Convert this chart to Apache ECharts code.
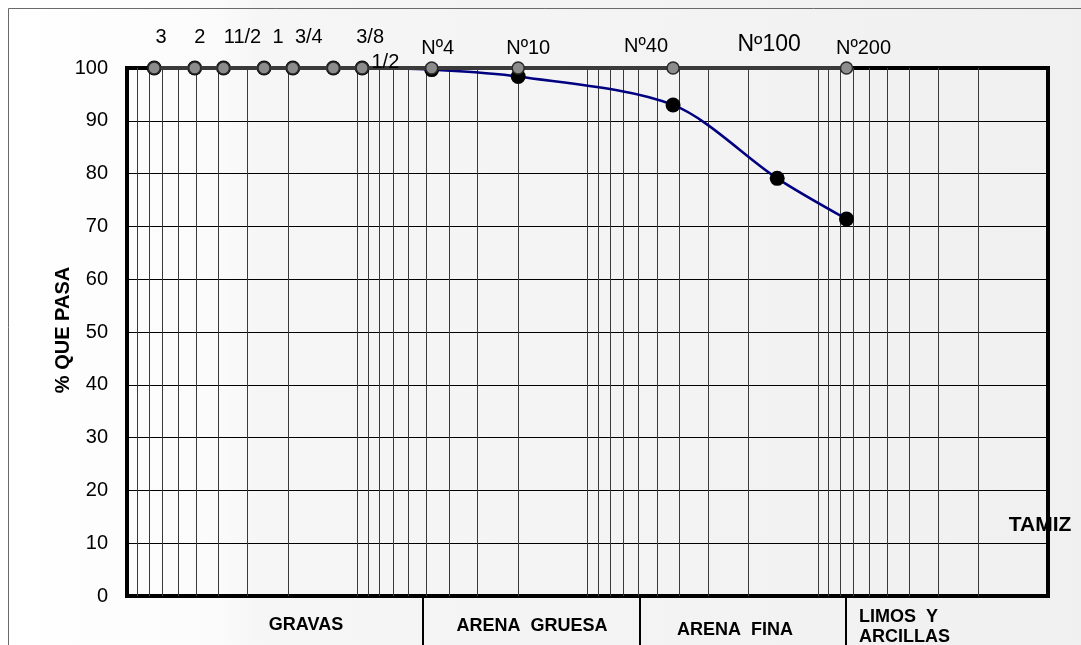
<!DOCTYPE html>
<html>
<head>
<meta charset="utf-8">
<title>Curva granulométrica</title>
<script src="https://cdn.jsdelivr.net/npm/echarts@6/dist/echarts.min.js"></script>
<style>
  html, body { margin: 0; padding: 0; background: #ffffff; }
  #chart { width: 1081px; height: 645px; }
</style>
</head>
<body>
<div id="chart"></div>
<script>
// Sieve series (ASTM) and their openings in millimetres
const sieves = ['3', '2', '11/2', '1', '3/4', '1/2', '3/8', 'Nº4', 'Nº10', 'Nº40', 'Nº100', 'Nº200'];
const openingsMm = [76.2, 50.8, 38.1, 25.4, 19.05, 12.7, 9.525, 4.75, 2.0, 0.425, 0.15, 0.075];
// Percentage passing each sieve
const percentPassing = [100, 100, 100, 100, 100, 100, 100, 99.7, 98.4, 93.0, 79.1, 71.4];
// Reference row of sieves drawn along the 100 % line
const sieveRow = [100, 100, 100, 100, 100, 100, 100, 100, 100, 100, 100, 100];
// Sieves that appear in the reference row without a marker
const rowWithoutMarker = ['Nº100'];
// Y axis range
const yMin = 0, yMax = 100, yStep = 10;
// Soil classes shown under the plot
const soilClasses = ['GRAVAS', 'ARENA  GRUESA', 'ARENA  FINA', 'LIMOS  Y', 'ARCILLAS'];

// Label placement for each sieve name, relative to its marker centre
const sieveLabelLayout = {
  '3': { offset: [7, -31] },
  '2': { offset: [5, -31] },
  '11/2': { offset: [19, -31] },
  '1': { offset: [14, -31] },
  '3/4': { offset: [16, -31] },
  '1/2': { offset: [52, -6] },
  '3/8': { offset: [8, -31] },
  'Nº4': { offset: [6, -20] },
  'Nº10': { offset: [10, -20] },
  'Nº40': { offset: [-27, -22] },
  'Nº100': { offset: [-8, -23], fontSize: 23 },
  'Nº200': { offset: [17, -20] }
};

// Log-cycle grid: 2..9 within each decade plus the decade lines, 0.01 mm – 100 mm
const logGridValues = [];
for (let e = -2; e <= 1; e++) {
  for (let m = 1; m <= 9; m++) {
    if (e === -2 && m === 1) continue;
    logGridValues.push(+(m * Math.pow(10, e)).toPrecision(6));
  }
}

const FONT = '"Liberation Sans", Arial, Helvetica, sans-serif';

const curveData = openingsMm.map((d, i) => [d, percentPassing[i]]);
const rowData = sieves.map((s, i) => {
  const lay = sieveLabelLayout[s];
  return {
    name: s,
    value: [openingsMm[i], sieveRow[i]],
    symbolSize: rowWithoutMarker.includes(s) ? 0 : 12,
    label: { offset: lay.offset, fontSize: lay.fontSize || 20 }
  };
});

const chart = echarts.init(document.getElementById('chart'), null, { renderer: 'canvas' });

chart.setOption({
  animation: false,
  backgroundColor: 'transparent',
  grid: {
    left: 127, right: 33, top: 68, bottom: 49,
    show: true,
    borderColor: '#000000',
    borderWidth: 4,
    backgroundColor: 'transparent'
  },
  xAxis: {
    type: 'log',
    logBase: 10,
    min: 0.01,
    max: 100,
    inverse: true,
    axisLine: { show: false },
    axisTick: { show: false },
    axisLabel: { show: false },
    splitLine: { show: false }
  },
  yAxis: {
    type: 'value',
    min: yMin,
    max: yMax,
    interval: yStep,
    axisLine: { show: false },
    axisTick: { show: false },
    axisLabel: { fontFamily: FONT, fontSize: 20, color: '#000', margin: 19 },
    splitLine: { show: true, lineStyle: { color: '#000', width: 1 } }
  },
  graphic: [
    {
      type: 'rect', z: -20, silent: true,
      shape: { x: 0, y: 0, width: 1081, height: 645 },
      style: {
        fill: new echarts.graphic.LinearGradient(0, 0, 1, 0, [
          { offset: 0, color: '#ffffff' },
          { offset: 0.2, color: '#fbfbfb' },
          { offset: 0.24, color: '#f6f6f6' },
          { offset: 1, color: '#f0f0f0' }
        ])
      }
    },
    {
      type: 'rect', z: -19, silent: true,
      shape: { x: 8.5, y: 8.5, width: 1200, height: 1000 },
      style: { fill: 'none', stroke: '#6a6a6a', lineWidth: 1 }
    },
    // vertical axis title
    { type: 'text', z: 1, silent: true, x: 63, y: 330, rotation: Math.PI / 2,
      style: { text: '% QUE PASA', font: 'bold 20px ' + FONT, fill: '#000', align: 'center', verticalAlign: 'middle' } },
    // sieve axis title, partly covered by the right edge of the frame
    { type: 'text', z: 1, silent: true, x: 1040, y: 525,
      style: { text: 'TAMIZ', font: 'bold 21px ' + FONT, fill: '#000', align: 'center', verticalAlign: 'middle' } },
    { type: 'line', z: 20, silent: true, shape: { x1: 1048, y1: 480, x2: 1048, y2: 560 }, style: { stroke: '#000', lineWidth: 4 } },
    // class separators below the plot
    { type: 'line', z: 1, silent: true, shape: { x1: 423, y1: 598, x2: 423, y2: 645 }, style: { stroke: '#000', lineWidth: 2 } },
    { type: 'line', z: 1, silent: true, shape: { x1: 640, y1: 598, x2: 640, y2: 645 }, style: { stroke: '#000', lineWidth: 2 } },
    { type: 'line', z: 1, silent: true, shape: { x1: 846, y1: 598, x2: 846, y2: 645 }, style: { stroke: '#000', lineWidth: 2 } },
    { type: 'text', z: 1, silent: true, x: 306, y: 625,
      style: { text: soilClasses[0], font: 'bold 18px ' + FONT, fill: '#000', align: 'center', verticalAlign: 'middle' } },
    { type: 'text', z: 1, silent: true, x: 532, y: 626,
      style: { text: soilClasses[1], font: 'bold 18px ' + FONT, fill: '#000', align: 'center', verticalAlign: 'middle' } },
    { type: 'text', z: 1, silent: true, x: 735, y: 630,
      style: { text: soilClasses[2], font: 'bold 18px ' + FONT, fill: '#000', align: 'center', verticalAlign: 'middle' } },
    { type: 'text', z: 1, silent: true, x: 859, y: 617,
      style: { text: soilClasses[3], font: 'bold 18px ' + FONT, fill: '#000', align: 'left', verticalAlign: 'middle' } },
    { type: 'text', z: 1, silent: true, x: 859, y: 637,
      style: { text: soilClasses[4], font: 'bold 18px ' + FONT, fill: '#000', align: 'left', verticalAlign: 'middle' } }
  ],
  series: [
    {
      // log-cycle vertical grid
      type: 'line',
      data: [],
      silent: true,
      z: 1,
      markLine: {
        silent: true,
        symbol: ['none', 'none'],
        label: { show: false },
        lineStyle: { color: '#3a3a3a', width: 1, type: 'solid' },
        emphasis: { disabled: true },
        data: logGridValues.map(v => ({ xAxis: v }))
      }
    },
    {
      // grain-size distribution curve
      type: 'line',
      data: curveData,
      smooth: 0.3,
      z: 5,
      symbol: 'circle',
      symbolSize: 15,
      lineStyle: { color: '#000080', width: 2.5 },
      itemStyle: { color: '#000000' }
    },
    {
      // row of sieves along 100 %
      type: 'line',
      data: rowData,
      z: 6,
      symbol: 'circle',
      lineStyle: { color: '#3a3a3a', width: 4 },
      itemStyle: { color: '#8c8c8c', borderColor: '#2a2a2a', borderWidth: 1.5 },
      label: {
        show: true,
        position: 'inside',
        formatter: p => p.name,
        fontFamily: FONT,
        fontSize: 20,
        color: '#000',
        align: 'center',
        verticalAlign: 'middle'
      }
    }
  ]
});
</script>
</body>
</html>
